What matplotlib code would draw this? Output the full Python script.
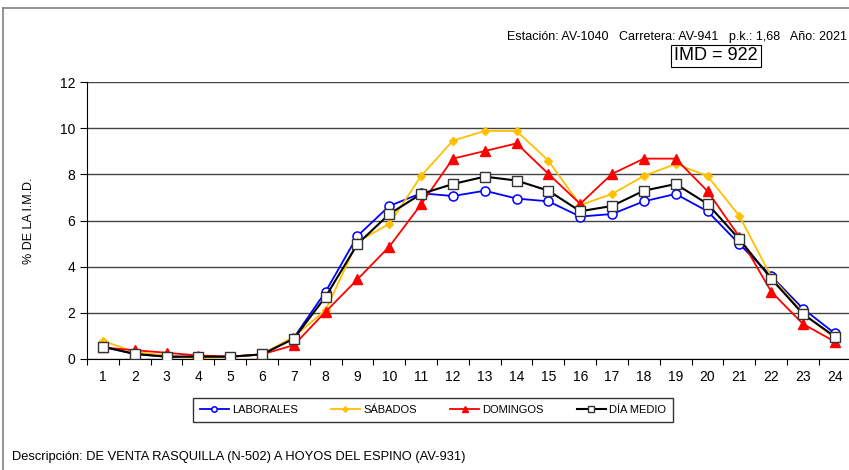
import numpy as np
import matplotlib.pyplot as plt
from matplotlib.lines import Line2D

plt.rcParams['font.family'] = ['Liberation Sans', 'DejaVu Sans']

horas = list(range(1, 25))
laborales = [0.53, 0.22, 0.10, 0.10, 0.10, 0.20, 0.92, 2.92, 5.33, 6.63, 7.18, 7.06,
             7.29, 6.95, 6.83, 6.17, 6.28, 6.83, 7.15, 6.40, 4.98, 3.60, 2.18, 1.11]
sabados = [0.79, 0.30, 0.15, 0.03, 0.10, 0.20, 0.97, 2.12, 5.08, 5.85, 7.93, 9.46,
           9.88, 9.88, 8.59, 6.67, 7.15, 7.93, 8.45, 7.93, 6.20, 3.57, 2.00, 0.90]
domingos = [0.50, 0.38, 0.27, 0.15, 0.10, 0.20, 0.60, 2.05, 3.45, 4.87, 6.70, 8.68,
            9.01, 9.34, 8.02, 6.72, 8.02, 8.68, 8.68, 7.27, 5.30, 2.92, 1.52, 0.75]
dia_medio = [0.53, 0.22, 0.10, 0.10, 0.10, 0.20, 0.88, 2.70, 4.98, 6.28, 7.15, 7.58,
             7.90, 7.73, 7.29, 6.40, 6.63, 7.29, 7.58, 6.72, 5.19, 3.48, 1.95, 0.97]

fig = plt.figure(figsize=(8.49, 4.70), dpi=100)
ax = fig.add_axes([87/849, 111/470, 1 - 87/849 + 0.002, 277/470])

ax.plot(horas, laborales, color='#0000ff', lw=1.3, marker='o', ms=6.5,
        mfc='white', mec='#0000ff', mew=1.1, label='LABORALES', zorder=3)
ax.plot(horas, sabados, color='#ffc000', lw=1.3, marker='D', ms=4.5,
        mfc='#ffc000', mec='#ffc000', label='SÁBADOS', zorder=3)
ax.plot(horas, domingos, color='#ff0000', lw=1.3, marker='^', ms=6.5,
        mfc='#ff0000', mec='#ff0000', label='DOMINGOS', zorder=3)
ax.plot(horas, dia_medio, color='black', lw=1.5, marker='s', ms=6.5,
        mfc='white', mec='#333333', mew=1.0, label='DÍA MEDIO', zorder=4)

ax.set_xlim(0.5, 24.5)
ax.set_ylim(0, 12)
ax.set_yticks(range(0, 13, 2))
ax.set_xticks(horas)
ax.set_xticks(np.arange(0.5, 25, 1), minor=True)
ax.tick_params(axis='x', which='major', length=0, labelsize=10, pad=8)
ax.tick_params(axis='x', which='minor', length=4, direction='out', width=0.8)
ax.tick_params(axis='y', length=5, direction='out', labelsize=10, width=0.8)
ax.yaxis.grid(True, color='#444444', lw=1.0)
ax.set_axisbelow(True)
for s in ['top', 'right']:
    ax.spines[s].set_visible(False)
ax.set_ylabel('% DE LA I.M.D.', fontsize=9, labelpad=18)

fig.legend(loc='center', bbox_to_anchor=(433/849, 1 - 410/470), ncol=4,
           fontsize=8, frameon=True, fancybox=False, edgecolor='black',
           handlelength=2.6, columnspacing=3.0, borderpad=0.6, markerscale=0.6,
           handletextpad=0.3)

fig.text(507/849, 1 - 37/470, 'Estación: AV-1040   Carretera: AV-941   p.k.: 1,68   Año: 2021',
         fontsize=9, va='center', ha='left')
fig.text(716/849, 1 - 56/470, 'IMD = 922', fontsize=13, va='center', ha='center',
         bbox=dict(boxstyle='square,pad=0.15', fc='white', ec='black', lw=0.8))
fig.text(12/849, 1 - 457/470, 'Descripción: DE VENTA RASQUILLA (N-502) A HOYOS DEL ESPINO (AV-931)',
         fontsize=9.3, va='center', ha='left')

# marco exterior
fig.add_artist(Line2D([3/849, 3/849], [0, 1 - 8/470], transform=fig.transFigure,
                      color='#808080', lw=1.2))
fig.add_artist(Line2D([3/849, 1], [1 - 8/470, 1 - 8/470], transform=fig.transFigure,
                      color='#808080', lw=1.2))

fig.savefig('out.png', dpi=100)
